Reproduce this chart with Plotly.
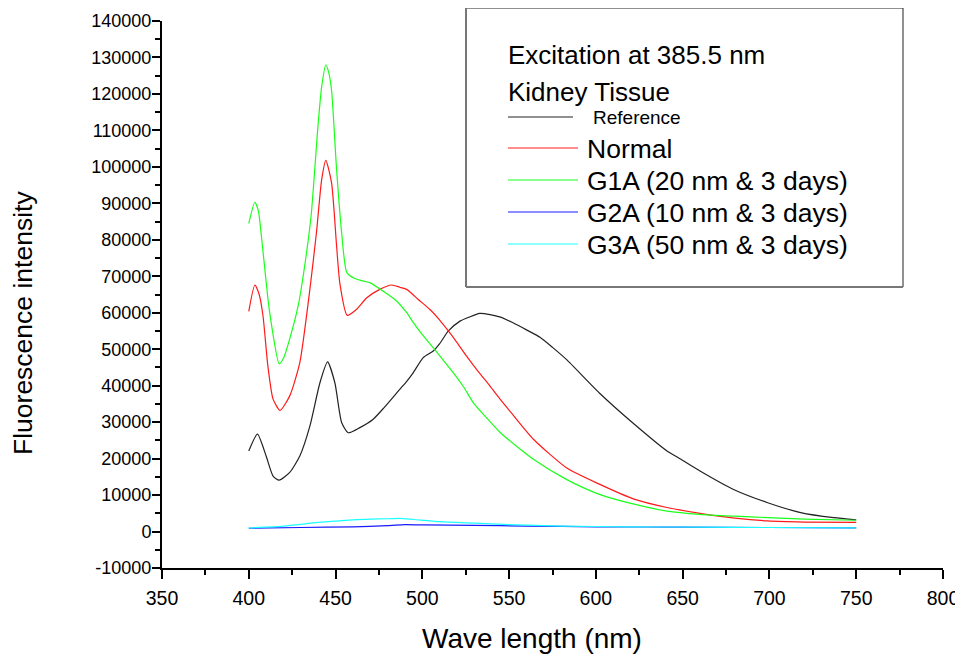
import plotly.graph_objects as go

# ---------------- data ----------------
ref_wl = [400, 405, 410, 414, 417.5, 423.6, 429.4, 435.2, 441, 445.4, 449.6, 453.5, 457.3,
          464, 471.7, 478, 487, 491, 494.8, 500.5, 506.3, 510, 515, 521.7, 527, 533, 539, 545,
          552, 560, 568, 575, 583, 602, 622, 641, 649, 660, 679, 699, 718, 737, 750]
ref_int = [22100, 26700, 20700, 15200, 14100, 16200, 20700, 28900, 40800, 46500, 40800, 29900, 27100,
           28500, 30800, 34000, 39000, 41200, 43600, 47700, 49500, 51500, 55000, 57700, 58800, 59800, 59500, 58800,
           57300, 55300, 53200, 50500, 47200, 38000, 29500, 22100, 19800, 16600, 11600, 7900, 5200, 3800, 3200]

normal_wl = [400, 403.5, 406, 408.2, 411, 414, 418, 423.6, 429.4, 435.2, 439, 442, 444.4, 447.7,
             450.6, 452.5, 456.7, 462, 468, 475.5, 482.3, 487, 491, 498, 504.4, 510, 515, 520, 525.5,
             532, 539, 545, 552, 564, 583, 602, 622, 641, 660, 680, 699, 720, 750]
normal_int = [60400, 67600, 65000, 59100, 45400, 36300, 33200, 37200, 46300, 66400, 82000, 96500, 101800, 95600,
              78300, 68000, 59300, 60900, 64100, 66400, 67600, 67000, 66400, 63500, 60900, 58000, 55000, 51800, 48100,
              44000, 39900, 36200, 32100, 25300, 17500, 13000, 8900, 6600, 5000, 3700, 2900, 2600, 2500]

g1a_wl = [400, 403.5, 405.5, 407.5, 411, 413, 417.5, 420, 423.5, 428.5, 433, 436, 440, 442, 444.4,
          446, 447.7, 450.5, 453.5, 456.5, 461, 465, 470, 477.5, 485, 491, 494.8, 500, 506.3, 511,
          517.8, 524, 529.4, 537, 545, 564, 583, 602, 622, 641, 660, 680, 699, 720, 750]
g1a_int = [84500, 90300, 88000, 80000, 64000, 57000, 46000, 47500, 52700, 62000, 75500, 87000, 112000, 122000, 128000,
           126000, 121000, 100000, 82000, 71000, 69400, 68800, 68200, 65900, 63300, 60000, 57300, 54000, 50400, 47600,
           43600, 39500, 35300, 31200, 27100, 19800, 14300, 10200, 7500, 5600, 4700, 4200, 3800, 3400, 3100]

g2a_wl = [400, 430, 460, 480, 490, 500, 530, 560, 600, 650, 700, 750]
g2a_int = [900, 1100, 1300, 1600, 1900, 1800, 1700, 1500, 1300, 1200, 1100, 1000]

g3a_wl = [400, 420, 440, 460, 470, 480, 487, 495, 510, 530, 550, 580, 620, 660, 700, 750]
g3a_int = [1000, 1500, 2500, 3200, 3400, 3500, 3600, 3300, 2700, 2300, 1900, 1500, 1300, 1200, 1100, 1000]

series_names = ["Reference", "Normal", "G1A (20 nm & 3 days)", "G2A (10 nm & 3 days)", "G3A (50 nm & 3 days)"]
series_colors = ["#222222", "#ff1a1a", "#1aff1a", "#1a1aff", "#1affff"]

y_tick_vals = [-10000, 0, 10000, 20000, 30000, 40000, 50000, 60000, 70000, 80000,
               90000, 100000, 110000, 120000, 130000, 140000]
y_tick_text = ["-10000", "0", "10000", "20000", "30000", "40000", "50000", "60000", "70000", "80000",
               "90000", "100000", "110000", "120000", "130000", "140000"]
x_tick_vals = [350, 400, 450, 500, 550, 600, 650, 700, 750, 800]

legend_title_lines = ["Excitation at 385.5 nm", "Kidney Tissue"]
x_title = "Wave length (nm)"
y_title = "Fluorescence intensity"

# ---------------- figure ----------------
OFF = 8                      # page body margin around the plot div
WIN_W, WIN_H = 963, 657
W, H = WIN_W - OFF, WIN_H - OFF
# plot area in window pixels: x 162..943, y 21..568
L, R, T, B = 162 - OFF, WIN_W - 943, 21 - OFF, WIN_H - 568
FONT = "Arial, Liberation Sans, sans-serif"


def px(x):
    # window pixel -> paper x
    return (x - 162) / (943 - 162)


def py(y):
    # window pixel -> paper y
    return (568 - y) / (568 - 21)


fig = go.Figure()
all_series = [(ref_wl, ref_int), (normal_wl, normal_int), (g1a_wl, g1a_int),
              (g2a_wl, g2a_int), (g3a_wl, g3a_int)]
for (wl, val), name, col in zip(all_series, series_names, series_colors):
    fig.add_trace(go.Scatter(x=wl, y=val, mode="lines", name=name,
                             line=dict(color=col, width=1.2, shape="spline", smoothing=0.6),
                             showlegend=False))

shapes = []
annotations = []

# legend box (thin dark top/right, slightly heavier grey left/bottom like the original)
shapes.append(dict(type="rect", xref="paper", yref="paper",
                   x0=px(466), x1=px(903), y0=py(287), y1=py(8),
                   line=dict(color="#222222", width=1), fillcolor="rgba(255,255,255,0)", layer="above"))
shapes.append(dict(type="line", xref="paper", yref="paper",
                   x0=px(466), x1=px(466), y0=py(287), y1=py(8),
                   line=dict(color="#777777", width=2)))
shapes.append(dict(type="line", xref="paper", yref="paper",
                   x0=px(466), x1=px(903), y0=py(287), y1=py(287),
                   line=dict(color="#777777", width=2)))

# legend heading
for text, yy in zip(legend_title_lines, [55, 92]):
    annotations.append(dict(xref="paper", yref="paper", x=px(506), y=py(yy), text=text,
                            showarrow=False, xanchor="left", yanchor="middle",
                            font=dict(family=FONT, size=26, color="black")))

# legend entries
line_y = [117, 148, 180, 212, 244]
text_x = [591, 585, 585, 585, 585]
text_size = [19, 26.5, 26.5, 26.5, 26.5]
line_end = [573, 578, 578, 578, 578]
for name, col, ly, tx, ts, le in zip(series_names, series_colors, line_y, text_x, text_size, line_end):
    shapes.append(dict(type="line", xref="paper", yref="paper",
                       x0=px(508), x1=px(le), y0=py(ly), y1=py(ly),
                       line=dict(color=col, width=1.2)))
    annotations.append(dict(xref="paper", yref="paper", x=px(tx), y=py(ly + 1), text=name,
                            showarrow=False, xanchor="left", yanchor="middle",
                            font=dict(family=FONT, size=ts, color="black")))

# axis titles
annotations.append(dict(xref="paper", yref="paper", x=px(532), y=py(638), text=x_title,
                        showarrow=False, xanchor="center", yanchor="middle",
                        font=dict(family=FONT, size=28, color="black")))
annotations.append(dict(xref="paper", yref="paper", x=px(23), y=py(323), text=y_title,
                        showarrow=False, xanchor="center", yanchor="middle", textangle=-90,
                        font=dict(family=FONT, size=26.5, color="black")))

fig.update_layout(
    width=W, height=H,
    margin=dict(l=L, r=R, t=T, b=B, autoexpand=False),
    paper_bgcolor="white", plot_bgcolor="white",
    showlegend=False,
    shapes=shapes, annotations=annotations,
    font=dict(family=FONT, color="black"),
)
fig.update_xaxes(range=[350, 800], tickvals=x_tick_vals, showgrid=False, zeroline=False,
                 automargin=False,
                 showline=True, linecolor="black", linewidth=2,
                 ticks="outside", ticklen=9, tickwidth=2, tickcolor="black",
                 ticklabelstandoff=3,
                 tickfont=dict(family=FONT, size=19.5, color="black"),
                 minor=dict(dtick=25, tick0=350, ticks="outside", ticklen=5, tickwidth=2, tickcolor="black",
                            showgrid=False))
fig.update_yaxes(range=[-10000, 140000], tickvals=y_tick_vals, ticktext=y_tick_text,
                 showgrid=False, zeroline=False, automargin=False,
                 showline=True, linecolor="black", linewidth=2,
                 ticks="outside", ticklen=8, tickwidth=2, tickcolor="black",
                 ticklabelstandoff=-3,
                 tickfont=dict(family=FONT, size=18, color="black"),
                 minor=dict(dtick=5000, tick0=0, ticks="outside", ticklen=5, tickwidth=2, tickcolor="black",
                            showgrid=False))

fig.write_html("out.html")
